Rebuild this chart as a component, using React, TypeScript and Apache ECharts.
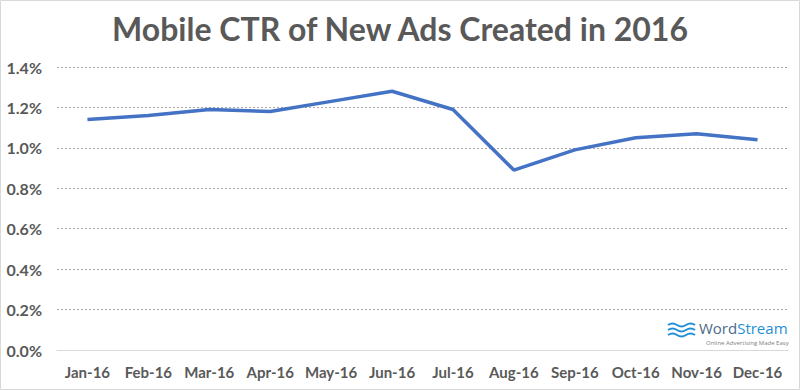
import React, { useEffect, useRef } from "react";
import * as echarts from "echarts";

const months = ["Jan-16", "Feb-16", "Mar-16", "Apr-16", "May-16", "Jun-16", "Jul-16", "Aug-16", "Sep-16", "Oct-16", "Nov-16", "Dec-16"];
const ctr = [1.14, 1.16, 1.19, 1.18, 1.23, 1.28, 1.19, 0.89, 0.99, 1.05, 1.07, 1.04];
const titleText = "Mobile CTR of New Ads Created in 2016";

const wavePath = "M0,2 C3,0 6,0 9,2 C12,4 15,4 18,2 C21,0 24,0 27,2";

export default function App() {
  const ref = useRef<HTMLDivElement>(null);
  useEffect(() => {
    if (!ref.current) return;
    echarts.graphic.registerShape("wave", echarts.graphic.extendPath(wavePath, {}) as any);
    const chart = echarts.init(ref.current, null, { renderer: "svg" });
    const waveStyle = { fill: "none", stroke: "#1f8fd6", lineWidth: 2 };
    chart.setOption({
      animation: false,
      backgroundColor: "#fff",
      title: {
        text: titleText,
        left: "center",
        top: 7,
        textStyle: { fontFamily: "Lato", fontWeight: "bold", fontSize: 32, color: "#595959" },
      },
      grid: { left: 57, right: 12, top: 67, bottom: 40, containLabel: false },
      xAxis: {
        type: "category",
        data: months,
        boundaryGap: true,
        axisLine: { show: true, lineStyle: { color: "#d9d9d9", width: 1 } },
        axisTick: { show: false },
        axisLabel: { interval: 0, fontFamily: "Lato", fontWeight: "bold", fontSize: 15, color: "#595959", margin: 14 },
      },
      yAxis: {
        type: "value",
        min: 0,
        max: 1.4,
        interval: 0.2,
        axisLine: { show: false },
        axisTick: { show: false },
        splitLine: { lineStyle: { color: "#a6a6a6", type: [2, 2], width: 1 } },
        axisLabel: {
          fontFamily: "Lato",
          fontWeight: "bold",
          fontSize: 16,
          color: "#595959",
          margin: 15,
          formatter: (v: number) => v.toFixed(1) + "%",
        },
      },
      series: [
        {
          type: "line",
          data: ctr,
          symbol: "none",
          lineStyle: { color: "#4472C4", width: 3.5 },
        },
      ],
      graphic: [
        { type: "rect", shape: { x: 0.5, y: 0.5, width: 799, height: 389 }, style: { fill: "none", stroke: "#d9d9d9", lineWidth: 1 }, silent: true },
        { type: "wave", x: 668, y: 323, style: waveStyle },
        { type: "wave", x: 668, y: 328, style: waveStyle },
        { type: "wave", x: 668, y: 333, style: waveStyle },
        {
          type: "text",
          x: 699,
          y: 320,
          style: {
            text: "{a|Word}{b|Stream}",
            rich: {
              a: { fontFamily: "Open Sans", fontSize: 15, fill: "#4a6a8a", fontWeight: "normal" },
              b: { fontFamily: "Open Sans", fontSize: 15, fill: "#1f8fd6", fontWeight: "normal" },
            },
          },
        },
        {
          type: "text",
          x: 706,
          y: 340,
          style: { text: "Online Advertising Made Easy", fontFamily: "Open Sans", fontSize: 6, fill: "#808080" },
        },
      ],
    });
    return () => chart.dispose();
  }, []);
  return <div ref={ref} style={{ width: 800, height: 390, position: "absolute", left: 0, top: 0 }} />;
}
